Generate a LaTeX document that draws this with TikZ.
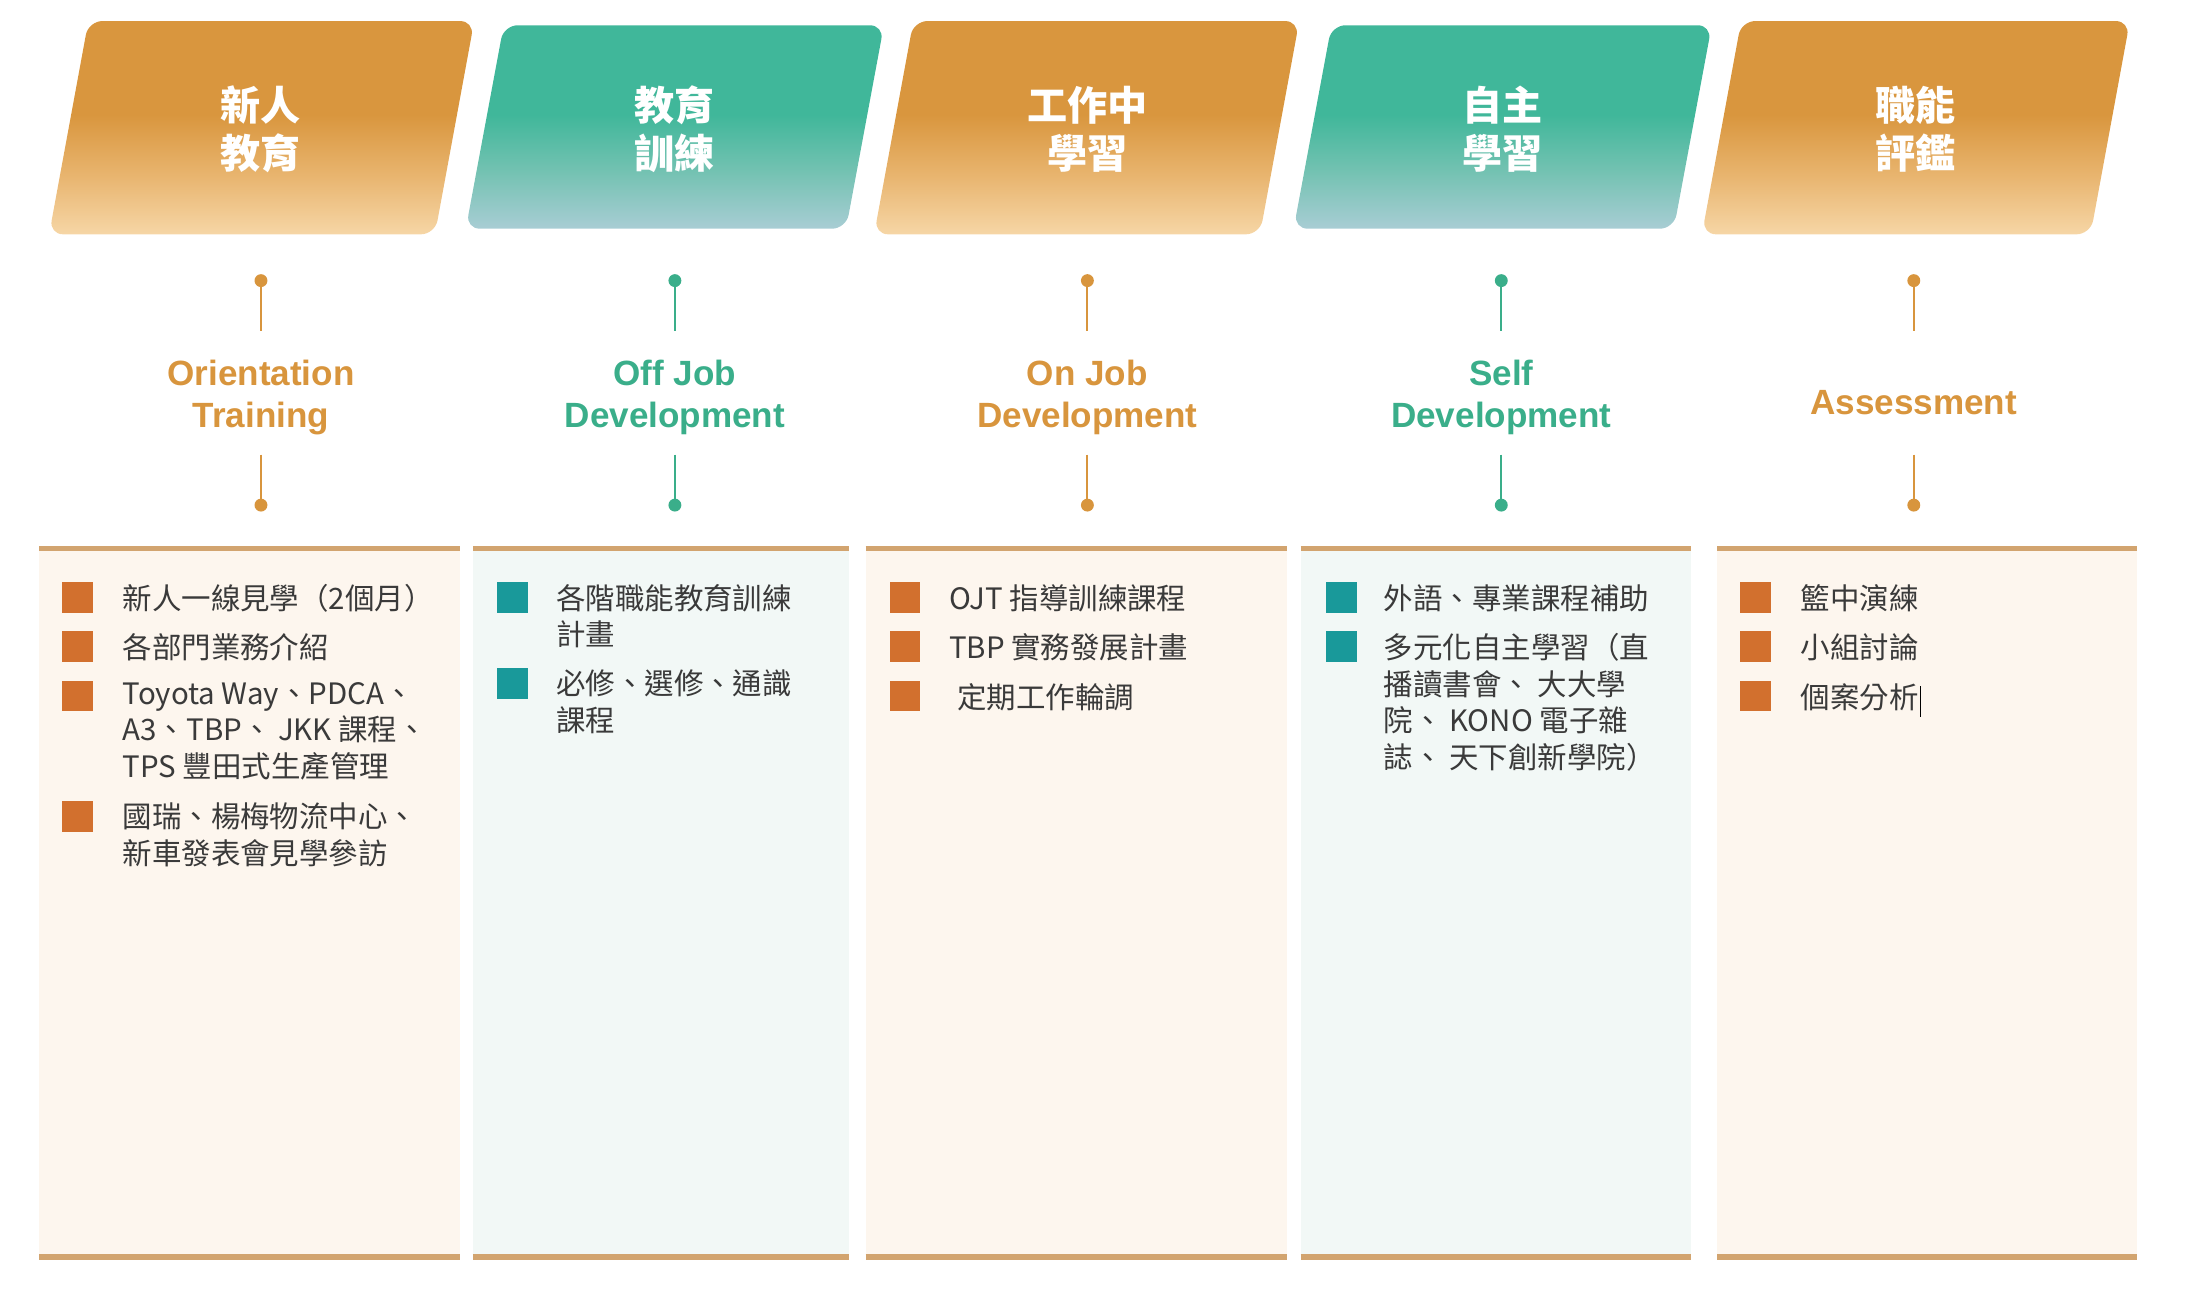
\documentclass[tikz,border=0pt]{standalone}
\usepackage{fontspec}
\newfontfamily\cjk{Noto Sans CJK TC}
\newfontfamily\lab{Liberation Sans}
\definecolor{orangeD}{HTML}{D9963E}
\definecolor{orangeM}{HTML}{E8B46E}
\definecolor{orangeL}{HTML}{F6D6A6}
\definecolor{greenD}{HTML}{40B79A}
\definecolor{greenM}{HTML}{74C2B2}
\definecolor{greenL}{HTML}{A8CDD4}
\definecolor{labO}{HTML}{D8953D}
\definecolor{labG}{HTML}{3AAE8A}
\definecolor{panelO}{HTML}{FDF6EE}
\definecolor{panelG}{HTML}{F2F8F6}
\definecolor{tanline}{HTML}{D2A46F}
\definecolor{bulO}{HTML}{D2702E}
\definecolor{bulG}{HTML}{19999A}
\definecolor{txtgray}{HTML}{3A3A3A}
\pgfdeclareverticalshading{orangefade}{100bp}{color(0bp)=(orangeL); color(25bp)=(orangeL); color(39bp)=(orangeM); color(53bp)=(orangeD); color(100bp)=(orangeD)}
\pgfdeclareverticalshading{greenfade}{100bp}{color(0bp)=(greenL); color(25bp)=(greenL); color(39bp)=(greenM); color(53bp)=(greenD); color(100bp)=(greenD)}
\tikzset{
  headtxt/.style={text=white, align=center, font=\cjk\bfseries\fontsize{14.3}{17}\selectfont},
  labtxt/.style={align=center, font=\lab\bfseries\fontsize{12.5}{15}\selectfont},
  item/.style={anchor=north west, inner sep=0pt, align=left, text=txtgray,
    font=\cjk\fontsize{10.5}{13}\selectfont, execute at begin node=\strut},
  bullet/.style={inner sep=0pt, minimum size=11pt},
  conn/.style={line width=0.75pt},
  rule/.style={tanline, line width=1.6pt}
}
\begin{document}
\begin{tikzpicture}[x=0.5pt,y=-0.5pt]
    \useasboundingbox (0,0) rectangle (1568,928);
    % Headers
    \shade[shading=orangefade, rounded corners=5pt] (35,167) -- (63,15) -- (338,15) -- (310,167) -- cycle;
    \shade[shading=greenfade, rounded corners=5pt] (332,163) -- (359,18) -- (630,18) -- (603,163) -- cycle;
    \shade[shading=orangefade, rounded corners=5pt] (623,167) -- (651,15) -- (926,15) -- (898,167) -- cycle;
    \shade[shading=greenfade, rounded corners=5pt] (922,163) -- (949,18) -- (1220,18) -- (1193,163) -- cycle;
    \shade[shading=orangefade, rounded corners=5pt] (1213,167) -- (1241,15) -- (1518,15) -- (1490,167) -- cycle;
    \node[headtxt] (h1) at (186,92) {新人\\教育};
    \node[headtxt] (h2) at (481,92) {教育\\訓練};
    \node[headtxt] (h3) at (775,92) {工作中\\學習};
    \node[headtxt] (h4) at (1071,92) {自主\\學習};
    \node[headtxt] (h5) at (1365,92) {職能\\評鑑};
    % Labels
    \node[labtxt, text=labO] (l1) at (186,283) {Orientation\\Training};
    \node[labtxt, text=labG] (l2) at (481,283) {Off Job\\Development};
    \node[labtxt, text=labO] (l3) at (775,283) {On Job\\Development};
    \node[labtxt, text=labG] (l4) at (1070,283) {Self\\Development};
    \node[labtxt, text=labO] (l5) at (1364,287) {Assessment};
    % Points
    \coordinate (t1) at (186,200); \coordinate (u1) at (186,236);
    \coordinate (v1) at (186,324); \coordinate (w1) at (186,360);
    \coordinate (t2) at (481,200); \coordinate (u2) at (481,236);
    \coordinate (v2) at (481,324); \coordinate (w2) at (481,360);
    \coordinate (t3) at (775,200); \coordinate (u3) at (775,236);
    \coordinate (v3) at (775,324); \coordinate (w3) at (775,360);
    \coordinate (t4) at (1070,200); \coordinate (u4) at (1070,236);
    \coordinate (v4) at (1070,324); \coordinate (w4) at (1070,360);
    \coordinate (t5) at (1364,200); \coordinate (u5) at (1364,236);
    \coordinate (v5) at (1364,324); \coordinate (w5) at (1364,360);
    % Connectors
    \draw[conn, labO] (t1) -- (u1); \draw[conn, labO] (v1) -- (w1);
    \draw[conn, labG] (t2) -- (u2); \draw[conn, labG] (v2) -- (w2);
    \draw[conn, labO] (t3) -- (u3); \draw[conn, labO] (v3) -- (w3);
    \draw[conn, labG] (t4) -- (u4); \draw[conn, labG] (v4) -- (w4);
    \draw[conn, labO] (t5) -- (u5); \draw[conn, labO] (v5) -- (w5);
    \fill[labO] (t1) circle (2.3pt) (w1) circle (2.3pt);
    \fill[labG] (t2) circle (2.3pt) (w2) circle (2.3pt);
    \fill[labO] (t3) circle (2.3pt) (w3) circle (2.3pt);
    \fill[labG] (t4) circle (2.3pt) (w4) circle (2.3pt);
    \fill[labO] (t5) circle (2.3pt) (w5) circle (2.3pt);
    % Panels
    \fill[panelO] (28,391) rectangle (328,895);
    \fill[panelG] (337,391) rectangle (605,895);
    \fill[panelO] (617,391) rectangle (917,895);
    \fill[panelG] (927,391) rectangle (1205,895);
    \fill[panelO] (1224,391) rectangle (1523,895);
    \draw[rule] (28,391) -- (328,391) (337,391) -- (605,391) (617,391) -- (917,391)
      (927,391) -- (1205,391) (1224,391) -- (1523,391);
    \draw[rule, line width=2pt] (28,896) -- (328,896) (337,896) -- (605,896) (617,896) -- (917,896)
      (927,896) -- (1205,896) (1224,896) -- (1523,896);
    % Items
    \node[bullet, fill=bulO] (b11) at (55,426) {};
    \node[bullet, fill=bulO] (b12) at (55,461) {};
    \node[bullet, fill=bulO] (b13) at (55,496) {};
    \node[bullet, fill=bulO] (b14) at (55,582) {};
    \node[item] (c11) at (87,416) {新人一線見學（2個月）};
    \node[item] (c12) at (87,451) {各部門業務介紹};
    \node[item] (c13) at (87,486) {Toyota Way、PDCA、\\A3、TBP、 JKK 課程、\\TPS 豐田式生產管理};
    \node[item] (c14) at (87,572) {國瑞、楊梅物流中心、\\新車發表會見學參訪};
    \node[bullet, fill=bulG] (b21) at (365,426) {};
    \node[bullet, fill=bulG] (b22) at (365,487) {};
    \node[item] (c21) at (396,416) {各階職能教育訓練\\計畫};
    \node[item] (c22) at (396,477) {必修、選修、通識\\課程};
    \node[bullet, fill=bulO] (b31) at (645,426) {};
    \node[bullet, fill=bulO] (b32) at (645,461) {};
    \node[bullet, fill=bulO] (b33) at (645,496) {};
    \node[item] (c31) at (676,416) {OJT 指導訓練課程};
    \node[item] (c32) at (676,451) {TBP 實務發展計畫};
    \node[item] (c33) at (682,486) {定期工作輪調};
    \node[bullet, fill=bulG] (b41) at (956,426) {};
    \node[bullet, fill=bulG] (b42) at (956,461) {};
    \node[item] (c41) at (986,416) {外語、專業課程補助};
    \node[item] (c42) at (986,451) {多元化自主學習（直\\播讀書會、 大大學\\院、 KONO 電子雜\\誌、 天下創新學院）};
    \node[bullet, fill=bulO] (b51) at (1251,426) {};
    \node[bullet, fill=bulO] (b52) at (1251,461) {};
    \node[bullet, fill=bulO] (b53) at (1251,496) {};
    \node[item] (c51) at (1283,416) {籃中演練};
    \node[item] (c52) at (1283,451) {小組討論};
    \node[item] (c53) at (1283,486) {個案分析};
    \draw[black, line width=0.6pt] ([xshift=0.5pt,yshift=-1.5pt]c53.north east) -- ([xshift=0.5pt,yshift=1pt]c53.south east);

  \end{tikzpicture}
\end{document}
